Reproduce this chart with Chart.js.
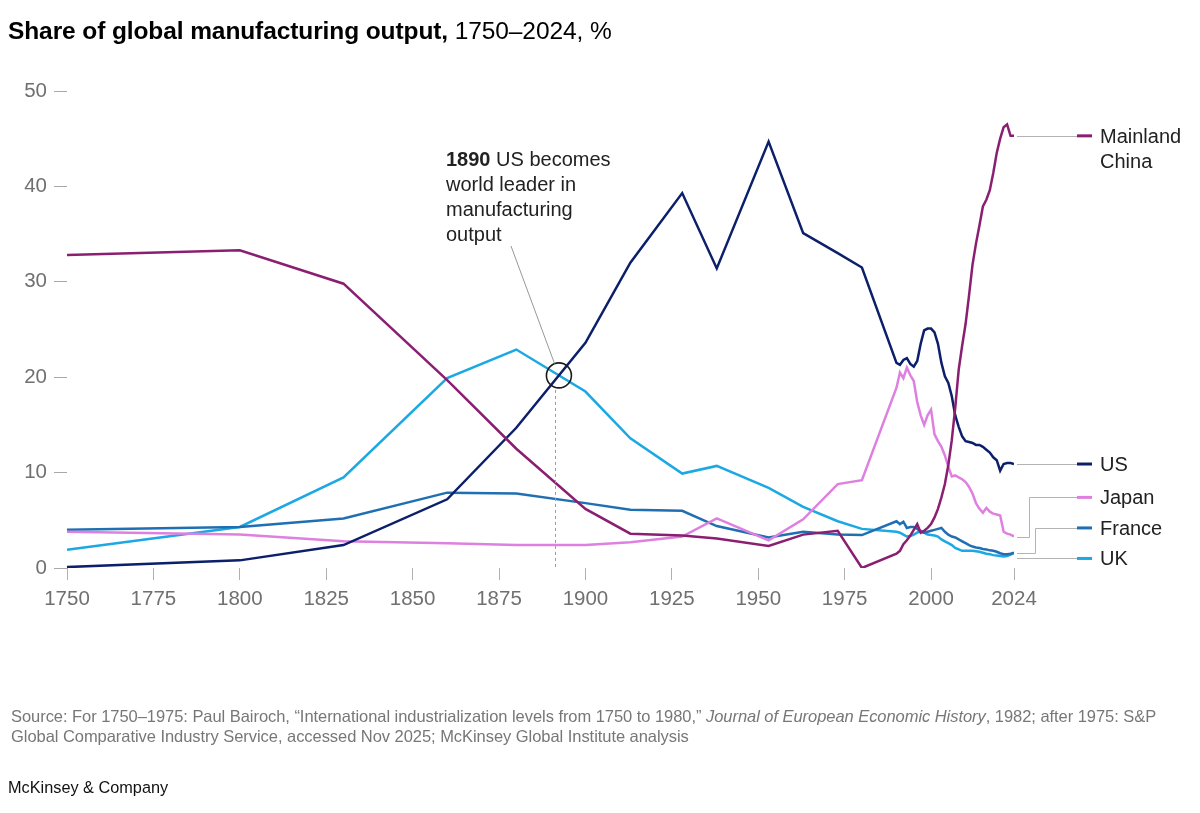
<!DOCTYPE html>
<html>
<head>
<meta charset="utf-8">
<script src="https://cdn.jsdelivr.net/npm/chart.js@4.4.1/dist/chart.umd.min.js"></script>
<style>
  html, body { margin: 0; padding: 0; background: #fff; }
  body { width: 1200px; height: 813px; position: relative; overflow: hidden; font-family: "Liberation Sans", Arial, sans-serif; }
  #c { position: absolute; left: 0; top: 0; }
  .ov { position: absolute; white-space: nowrap; }
  #title { left: 8px; top: 16px; font-size: 24.5px; line-height: 30px; color: #000; letter-spacing: -0.1px; }
  #title b { font-weight: bold; }
  #source { left: 11px; top: 706px; font-size: 16.5px; line-height: 20px; color: #777; letter-spacing: -0.05px; }
  #brand { left: 8px; top: 777px; font-size: 16.3px; line-height: 20px; color: #111; }
  #annot { left: 446px; top: 147px; font-size: 20px; line-height: 25px; color: #222; }
  .slabel { position: absolute; font-size: 20px; line-height: 25px; color: #222; white-space: nowrap; }
</style>
</head>
<body>
<canvas id="c" width="1200" height="813"></canvas>
<div id="title" class="ov"><b>Share of global manufacturing output,</b> 1750–2024, %</div>
<div id="annot" class="ov"><b>1890</b> US becomes<br>world leader in<br>manufacturing<br>output</div>
<div id="source" class="ov">Source: For 1750–1975: Paul Bairoch, “International industrialization levels from 1750 to 1980,” <i>Journal of European Economic History</i>, 1982; after 1975: S&amp;P<br>Global Comparative Industry Service, accessed Nov 2025; McKinsey Global Institute analysis</div>
<div id="brand" class="ov">McKinsey &amp; Company</div>
<script>
// ---------- DATA ----------
const xTickValues = [1750, 1775, 1800, 1825, 1850, 1875, 1900, 1925, 1950, 1975, 2000, 2024];
const yTickValues = [0, 10, 20, 30, 40, 50];

const years = [1750, 1800, 1830, 1860, 1880, 1900, 1913, 1928, 1938, 1953, 1963, 1973, 1980,
  1990, 1991, 1992, 1993, 1994, 1995, 1996, 1997, 1998, 1999,
  2000, 2001, 2002, 2003, 2004, 2005, 2006, 2007, 2008, 2009,
  2010, 2011, 2012, 2013, 2014, 2015, 2016, 2017, 2018, 2019,
  2020, 2021, 2022, 2023, 2024];

const china = [32.8, 33.3, 29.8, 19.7, 12.5, 6.2, 3.6, 3.4, 3.1, 2.3, 3.5, 3.9, 0.0,
  1.5, 1.8, 2.5, 2.9, 3.4, 4.0, 4.6, 3.7, 3.9, 4.2,
  4.6, 5.3, 6.2, 7.4, 8.8, 10.8, 13.4, 16.8, 20.8, 23.3,
  25.6, 28.6, 31.8, 34.0, 35.9, 37.9, 38.6, 39.6, 41.4, 43.5,
  45.0, 46.2, 46.5, 45.3, 45.3];

const us = [0.1, 0.8, 2.4, 7.2, 14.7, 23.6, 32.0, 39.3, 31.4, 44.7, 35.1, 33.0, 31.5,
  21.5, 21.3, 21.8, 22.0, 21.4, 21.1, 21.7, 23.5, 24.9, 25.1,
  25.1, 24.7, 23.5, 21.5, 20.1, 19.4, 18.0, 16.0, 14.8, 13.8,
  13.3, 13.2, 13.1, 12.9, 12.9, 12.7, 12.4, 12.1, 11.6, 11.3,
  10.2, 10.9, 11.0, 11.0, 10.9];

const japan = [3.8, 3.5, 2.8, 2.6, 2.4, 2.4, 2.7, 3.3, 5.2, 2.9, 5.1, 8.8, 9.2,
  18.9, 20.5, 19.9, 21.0, 20.2, 19.6, 17.4, 16.0, 15.0, 16.0,
  16.6, 14.0, 13.3, 12.7, 11.8, 10.6, 9.6, 9.7, 9.5, 9.3,
  9.0, 8.5, 7.8, 6.8, 6.2, 5.8, 6.3, 5.9, 5.7, 5.6,
  5.5, 3.8, 3.6, 3.5, 3.3];

const france = [4.0, 4.3, 5.2, 7.9, 7.8, 6.8, 6.1, 6.0, 4.4, 3.2, 3.8, 3.5, 3.45,
  4.9, 4.6, 4.85, 4.2, 4.3, 4.3, 4.1, 3.8, 3.7, 3.8,
  3.9, 4.0, 4.1, 4.2, 3.8, 3.5, 3.3, 3.2, 3.0, 2.8,
  2.6, 2.4, 2.25, 2.15, 2.1, 2.0, 1.95, 1.85, 1.8, 1.7,
  1.55, 1.45, 1.45, 1.5, 1.6];

const uk = [1.9, 4.3, 9.5, 19.9, 22.9, 18.5, 13.6, 9.9, 10.7, 8.4, 6.4, 4.9, 4.1,
  3.8, 3.7, 3.5, 3.3, 3.35, 3.5, 3.7, 3.9, 3.7, 3.5,
  3.45, 3.4, 3.3, 3.0, 2.8, 2.6, 2.4, 2.1, 1.95, 1.8,
  1.8, 1.8, 1.8, 1.75, 1.7, 1.6, 1.5, 1.45, 1.35, 1.3,
  1.25, 1.2, 1.25, 1.4, 1.55];

const seriesNames = ['Mainland China', 'US', 'Japan', 'France', 'UK'];
const seriesLabelLines = [['Mainland', 'China'], ['US'], ['Japan'], ['France'], ['UK']];
const seriesValues = [china, us, japan, france, uk];
const annotationYear = 1890;

// ---------- STYLE ----------
const colors = ['#8a1f72', '#0b1f6b', '#de80e0', '#1f6fb2', '#1ba8e3'];
const labelValue = [45.3, 10.9, 7.4, 4.2, 1.0];   // label anchor (value units)
const elbowOffset = [0, 0, 15, 21, 0];            // px right of plot end for leader elbow
const tickFont = { family: '"Liberation Sans", Arial, sans-serif', size: 20.5 };

const toPoints = arr => years.map((y, i) => ({ x: y, y: arr[i] }));

const datasets = seriesNames.map((n, i) => ({
  label: n,
  data: toPoints(seriesValues[i]),
  borderColor: colors[i],
  backgroundColor: colors[i],
  borderWidth: 2.5,
  pointRadius: 0,
  tension: 0,
  fill: false,
  order: i
}));

function intersection(a, b) {
  for (let i = 0; i < years.length - 1; i++) {
    const d0 = a[i] - b[i], d1 = a[i + 1] - b[i + 1];
    if (d0 < 0 && d1 >= 0 && years[i] >= annotationYear - 20) {
      const t = -d0 / (d1 - d0);
      return { x: years[i] + t * (years[i + 1] - years[i]), y: a[i] + t * (a[i + 1] - a[i]) };
    }
  }
  return null;
}

const overlayPlugin = {
  id: 'overlay',
  afterDatasetsDraw(chart) {
    const ctx = chart.ctx;
    const xs = chart.scales.x, ys = chart.scales.y;
    const right = chart.chartArea.right;
    ctx.save();
    seriesNames.forEach((n, i) => {
      const vals = seriesValues[i];
      const endY = ys.getPixelForValue(vals[vals.length - 1]);
      const labY = ys.getPixelForValue(labelValue[i]);
      const x0 = right + 3;
      const dashX = right + 63;
      ctx.strokeStyle = '#b3b3b3';
      ctx.lineWidth = 1;
      ctx.beginPath();
      if (elbowOffset[i] > 0) {
        const ex = right + elbowOffset[i];
        ctx.moveTo(x0, Math.round(endY) + 0.5);
        ctx.lineTo(ex + 0.5, Math.round(endY) + 0.5);
        ctx.lineTo(ex + 0.5, Math.round(labY) + 0.5);
        ctx.lineTo(dashX, Math.round(labY) + 0.5);
      } else {
        ctx.moveTo(x0, Math.round(labY) + 0.5);
        ctx.lineTo(dashX, Math.round(labY) + 0.5);
      }
      ctx.stroke();
      ctx.strokeStyle = colors[i];
      ctx.lineWidth = 3;
      ctx.beginPath();
      ctx.moveTo(dashX, labY);
      ctx.lineTo(dashX + 15, labY);
      ctx.stroke();
    });

    const p = intersection(us, uk);
    if (p) {
      const cx = xs.getPixelForValue(p.x), cy = ys.getPixelForValue(p.y);
      const r = 12.5;
      const dx = xs.getPixelForValue(annotationYear + 1.2);
      ctx.strokeStyle = '#9a9a9a';
      ctx.lineWidth = 1;
      ctx.setLineDash([3, 3]);
      ctx.beginPath();
      ctx.moveTo(Math.round(dx) + 0.5, cy + r + 2);
      ctx.lineTo(Math.round(dx) + 0.5, ys.getPixelForValue(0));
      ctx.stroke();
      ctx.setLineDash([]);
      ctx.strokeStyle = '#1a1a1a';
      ctx.lineWidth = 1.6;
      ctx.beginPath();
      ctx.arc(cx, cy, r, 0, Math.PI * 2);
      ctx.stroke();
      const tx = 511, ty = 246;
      const vx = cx - tx, vy = cy - ty, len = Math.hypot(vx, vy);
      ctx.strokeStyle = '#8c8c8c';
      ctx.lineWidth = 0.9;
      ctx.beginPath();
      ctx.moveTo(tx, ty);
      ctx.lineTo(cx - vx / len * r, cy - vy / len * r);
      ctx.stroke();
    }
    ctx.restore();
  }
};

const chart = new Chart(document.getElementById('c'), {
  type: 'line',
  data: { datasets },
  plugins: [overlayPlugin],
  options: {
    responsive: false,
    animation: false,
    devicePixelRatio: 1,
    layout: { padding: { top: 91, right: 186, bottom: 0, left: 0 } },
    plugins: { legend: { display: false }, tooltip: { enabled: false }, title: { display: false } },
    elements: { point: { radius: 0 } },
    scales: {
      x: {
        type: 'linear',
        min: 1750,
        max: 2024,
        afterBuildTicks: s => { s.ticks = xTickValues.map(v => ({ value: v })); },
        afterFit: s => { s.height = 245; },
        grid: { display: true, drawOnChartArea: false, drawTicks: true, tickLength: 12, tickColor: '#b0b0b0', lineWidth: 1 },
        border: { display: false },
        ticks: {
          padding: 7,
          color: '#707070',
          font: tickFont,
          maxRotation: 0,
          autoSkip: false,
          callback: v => String(v)
        }
      },
      y: {
        type: 'linear',
        min: 0,
        max: 50,
        afterBuildTicks: s => { s.ticks = yTickValues.map(v => ({ value: v })); },
        afterFit: s => { s.width = 67; },
        grid: { display: true, drawOnChartArea: false, drawTicks: true, tickLength: 13, tickColor: '#a8a8a8', lineWidth: 1 },
        border: { display: false },
        ticks: {
          padding: 7,
          color: '#707070',
          font: tickFont,
          callback: v => String(v)
        }
      }
    }
  }
});

(function placeLabels() {
  const ys = chart.scales.y;
  const right = chart.chartArea.right;
  seriesNames.forEach((n, i) => {
    const d = document.createElement('div');
    d.className = 'slabel';
    d.innerHTML = seriesLabelLines[i].join('<br>');
    const labY = ys.getPixelForValue(labelValue[i]);
    d.style.left = (right + 86) + 'px';
    d.style.top = (labY - 12) + 'px';
    document.body.appendChild(d);
  });
})();
</script>
</body>
</html>
